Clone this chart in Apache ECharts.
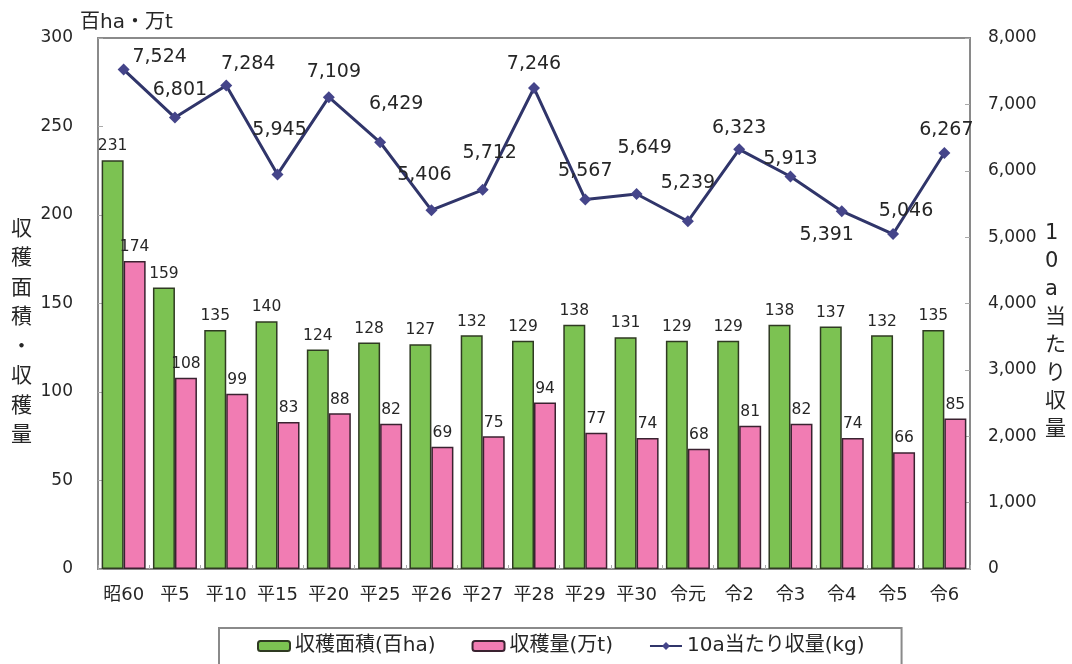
<!DOCTYPE html>
<html>
<head>
<meta charset="utf-8">
<script src="https://cdn.jsdelivr.net/npm/echarts@6/dist/echarts.min.js"></script>
<style>
html,body{margin:0;padding:0;background:#fff;}
#c{width:1072px;height:664px;}
</style>
</head>
<body>
<div id="c"></div>
<script>
const categories = ['昭60','平5','平10','平15','平20','平25','平26','平27','平28','平29','平30','令元','令2','令3','令4','令5','令6'];
const areaValues = [231,159,135,140,124,128,127,132,129,138,131,129,129,138,137,132,135];
const yieldValues = [174,108,99,83,88,82,69,75,94,77,74,68,81,82,74,66,85];
const per10aValues = [7524,6801,7284,5945,7109,6429,5406,5712,7246,5567,5649,5239,6323,5913,5391,5046,6267];
const leftTicks = [0,50,100,150,200,250,300];
const rightTicks = [0,1000,2000,3000,4000,5000,6000,7000,8000];

const FONT = '"DejaVu Sans", "Noto Sans CJK JP", sans-serif';
const CJK = '"Noto Sans CJK JP", sans-serif';
const TXT = '#262626';

// label placement tweaks for the line (style only)
const lineLabelTweak = {
  0: {offset:[36,11]}, 1: {offset:[5,-4]}, 2: {offset:[22,2]}, 3: {offset:[2,-21]},
  4: {offset:[5,-2]}, 5: {offset:[16,-15]}, 6: {offset:[-7,-12]}, 7: {offset:[7,-13]},
  9: {offset:[0,-5]}, 10: {offset:[8,-22]}, 11: {offset:[0,-15]}, 12: {offset:[0,2]},
  13: {offset:[0,6]}, 14: {position:'bottom', offset:[-15,0]}, 15: {offset:[13,0]}, 16: {offset:[2,1]}
};

const lineData = per10aValues.map((v,i)=>{
  const t = lineLabelTweak[i];
  return t ? {value:v, label:Object.assign({}, t)} : v;
});

const chart = echarts.init(document.getElementById('c'));
chart.setOption({
  animation:false,
  backgroundColor:'#fff',
  textStyle:{fontFamily:FONT},
  grid:{left:98,right:102,top:38,bottom:95,show:true,borderColor:'#8a8a8a',borderWidth:2},
  legend:{
    left:219, top:628,
    padding:[8,37,20,38],
    borderColor:'#8a8a8a', borderWidth:2,
    itemGap:36, itemWidth:32, itemHeight:10,
    textStyle:{fontSize:20,color:TXT,fontFamily:FONT},
    data:['収穫面積(百ha)','収穫量(万t)','10a当たり収量(kg)']
  },
  xAxis:{
    type:'category', data:categories,
    axisLine:{show:false},
    axisTick:{show:true,inside:true,length:4,lineStyle:{color:'#aaa'}},
    axisLabel:{fontSize:18,color:TXT,margin:17,fontFamily:FONT,interval:0,hideOverlap:false}
  },
  yAxis:[{
    type:'value', min:0, max:300, interval:50,
    axisLine:{show:false}, splitLine:{show:false},
    axisTick:{show:true,inside:true,length:5,lineStyle:{color:'#aaa'}},
    axisLabel:{fontSize:17,color:TXT,margin:25,fontFamily:FONT}
  },{
    type:'value', min:0, max:8000, interval:1000,
    axisLine:{show:false}, splitLine:{show:false},
    axisTick:{show:true,inside:true,length:5,lineStyle:{color:'#aaa'}},
    axisLabel:{fontSize:17,color:TXT,margin:18,fontFamily:FONT,
      formatter:v=>v.toLocaleString('en-US')}
  }],
  series:[{
    name:'収穫面積(百ha)', type:'bar', data:areaValues,
    barWidth:22, barGap:'0%',
    itemStyle:{color:'#7cc252',borderColor:'#2f3a22',borderWidth:1.5},
    label:{show:true,position:'top',fontSize:15.5,color:TXT,distance:6,fontFamily:FONT}
  },{
    name:'収穫量(万t)', type:'bar', data:yieldValues,
    barWidth:22, barGap:'0%',
    itemStyle:{color:'#f17cb3',borderColor:'#3a2230',borderWidth:1.5},
    label:{show:true,position:'top',fontSize:15.5,color:TXT,distance:6,fontFamily:FONT}
  },{
    name:'10a当たり収量(kg)', type:'line', yAxisIndex:1, data:lineData,
    symbol:'diamond', symbolSize:12,
    lineStyle:{color:'#30356a',width:3},
    itemStyle:{color:'#45458a'},
    label:{show:true,position:'top',fontSize:19,color:TXT,distance:8,fontFamily:FONT,
      formatter:p=>p.value.toLocaleString('en-US')},
    z:5
  }],
  graphic:[
    {type:'text',left:80,top:13,style:{text:'百ha・万t',fontSize:20,fill:TXT,fontFamily:FONT}},
    {type:'text',left:11,top:212,style:{text:'収\n穫\n面\n積\n・\n収\n穫\n量',fontSize:21,lineHeight:29.5,fill:TXT,fontFamily:CJK,align:'left'}},
    {type:'text',left:1045,top:220,style:{text:'1\n0\na\n当\nた\nり\n収\n量',fontSize:21,lineHeight:28,fill:TXT,fontFamily:FONT,align:'center',width:22}}
  ]
});
</script>
</body>
</html>
